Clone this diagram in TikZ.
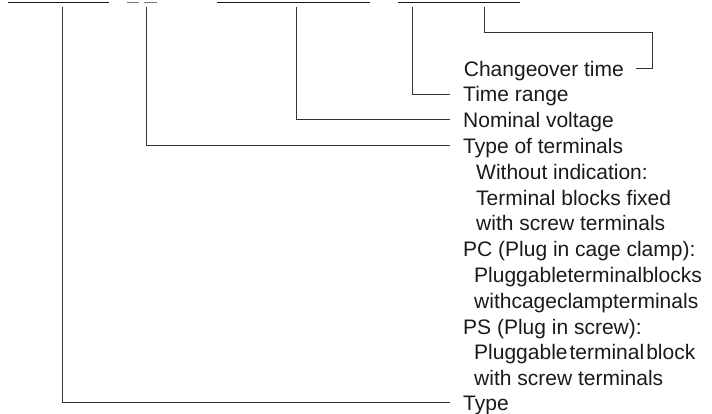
\documentclass[tikz,border=0pt]{standalone}
\usepackage{fontspec}
\setmainfont{Liberation Sans}
\definecolor{ink}{HTML}{1A1A1A}
\definecolor{lineink}{HTML}{333333}
\definecolor{dashink}{HTML}{777777}
\begin{document}
\begin{tikzpicture}[x=1pt,y=-1pt,
  lbl/.style={anchor=west,inner xsep=13pt,inner ysep=0pt,text height=15pt,text depth=0pt,
    font=\fontsize{21pt}{25pt}\selectfont,text=ink},
  sub/.style={anchor=west,inner xsep=0pt,inner ysep=0pt,text height=15pt,text depth=0pt,
    font=\fontsize{21pt}{25pt}\selectfont,text=ink},
  conn/.style={draw=lineink,line width=1pt},
  uline/.style={draw=ink,line width=1.1pt},
  gline/.style={draw=dashink,line width=1.4pt}]
\useasboundingbox (0,0) rectangle (712,414);
% cut-off underlines of the code at the top
\draw[uline] (8,2.5) -- (109,2.5);
\draw[gline] (127,2.5) -- (139,2.5);
\draw[gline] (144,2.5) -- (157,2.5);
\draw[uline] (217,2.5) -- (370,2.5);
\draw[uline] (398,2.5) -- (520,2.5);
% top ends of connectors
\coordinate (c1) at (62,7.5);
\coordinate (c2) at (146,7.5);
\coordinate (c3) at (296,7.5);
\coordinate (c4) at (412,7.5);
\coordinate (c5) at (484,7.5);
\coordinate (c5a) at (484,33);
\coordinate (c5b) at (652,33);
% labels
\node[sub,anchor=east,inner xsep=12pt] (chg) at (636,69) {Changeover time};
\node[lbl] (time) at (450,94.5) {Time range};
\node[lbl] (nom) at (450,120) {Nominal voltage};
\node[lbl] (term) at (450,146) {Type of terminals};
\node[sub] (s1) at (476,171.8) {Without indication:};
\node[sub] (s2) at (476,197.6) {Terminal blocks fixed};
\node[sub] (s3) at (476,223.4) {with screw terminals};
\node[sub] (s4) at (463,249.2) {PC (Plug in cage clamp):};
\node[sub] (s5) at (474,275) {Pluggableterminalblocks};
\node[sub] (s6) at (474,300.8) {withcageclampterminals};
\node[sub] (s7) at (463,326.6) {PS (Plug in screw):};
\node[sub] (s8) at (474,352.4) {Pluggable\hspace{2pt}terminal\hspace{2pt}block};
\node[sub] (s9) at (474,378.2) {with screw terminals};
\node[lbl] (type) at (450,402.5) {Type};
% connectors
\draw[conn] (c1) |- (type.west);
\draw[conn] (c2) |- (term.west);
\draw[conn] (c3) |- (nom.west);
\draw[conn] (c4) |- (time.west);
\draw[conn] (c5) -- (c5a) -- (c5b) |- (chg.east);
\end{tikzpicture}
\end{document}
